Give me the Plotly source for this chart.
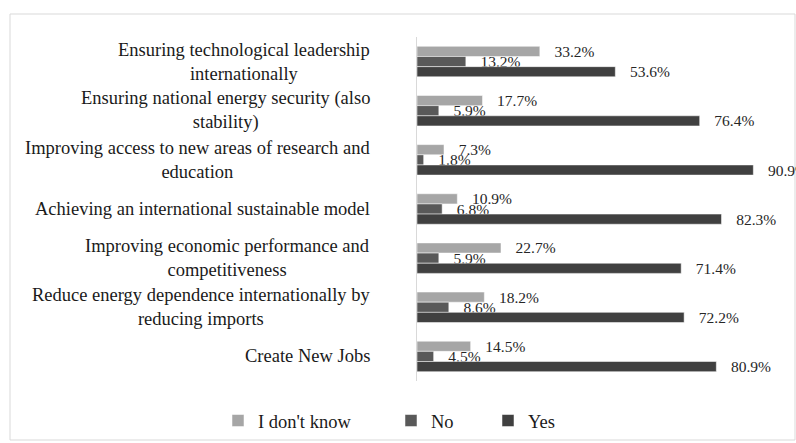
import plotly.graph_objects as go

categories = [
    "Ensuring technological leadership<br>internationally",
    "Ensuring national energy security (also<br>stability)",
    "Improving access to new areas of research and<br>education",
    "Achieving an international sustainable model",
    "Improving economic performance and<br>competitiveness",
    "Reduce energy dependence internationally by<br>reducing imports",
    "Create New Jobs",
]
dont_know = [33.2, 17.7, 7.3, 10.9, 22.7, 18.2, 14.5]
no_vals = [13.2, 5.9, 1.8, 6.8, 5.9, 8.6, 4.5]
yes_vals = [53.6, 76.4, 90.9, 82.3, 71.4, 72.2, 80.9]

series = [
    ("I don't know", dont_know, "#a6a6a6", "legend"),
    ("No", no_vals, "#595959", "legend2"),
    ("Yes", yes_vals, "#404040", "legend3"),
]

W, H = 796, 443
L, R, T, B = 417, 9, 37, 62
pw, ph = W - L - R, H - T - B

FONT = "Liberation Serif, Times New Roman, serif"
fig = go.Figure()
for name, vals, color, lg in series:
    fig.add_trace(go.Bar(
        y=categories, x=vals, name=name, orientation="h",
        marker=dict(color=color, line=dict(color="white", width=0.5)),
        text=vals, texttemplate="\u00a0\u00a0\u00a0%{x:.1f}%",
        textposition="outside", cliponaxis=False, constraintext="none",
        textfont=dict(family=FONT, size=15.5, color="#262626"),
        legend=lg, hoverinfo="skip",
    ))

for c in categories:
    fig.add_annotation(
        x=(372 - L) / pw, xref="paper", y=c, yref="y",
        text=c, showarrow=False, xanchor="right", align="center",
        font=dict(family=FONT, size=18.5, color="#1a1a1a"),
    )

# chart border
fig.add_shape(type="rect", xref="paper", yref="paper",
              x0=(10 - L) / pw, x1=(795 - L) / pw,
              y0=(T + ph - 440) / ph, y1=(T + ph - 14) / ph,
              line=dict(color="#d9d9d9", width=1), fillcolor="rgba(0,0,0,0)", layer="below")

leg_common = dict(orientation="h", xref="container", yref="container",
                  yanchor="middle", y=(H - 421) / H, xanchor="left",
                  font=dict(family=FONT, size=18.5, color="#1a1a1a"),
                  bgcolor="rgba(0,0,0,0)")

fig.update_layout(
    width=W, height=H,
    margin=dict(l=L, r=R, t=T, b=B, pad=0),
    paper_bgcolor="white", plot_bgcolor="white",
    barmode="group", bargap=0.38, bargroupgap=0,
    showlegend=True,
    legend=dict(x=218 / W, **leg_common),
    legend2=dict(x=391 / W, **leg_common),
    legend3=dict(x=488 / W, **leg_common),
    xaxis=dict(range=[0, 100], showticklabels=False, showgrid=False,
               zeroline=False, showline=False, ticks=""),
    yaxis=dict(range=[6.5, -0.5], showticklabels=False, showgrid=False,
               zeroline=False, showline=True, linecolor="#d9d9d9",
               linewidth=1, ticks=""),
)

fig.write_html("out.html")
